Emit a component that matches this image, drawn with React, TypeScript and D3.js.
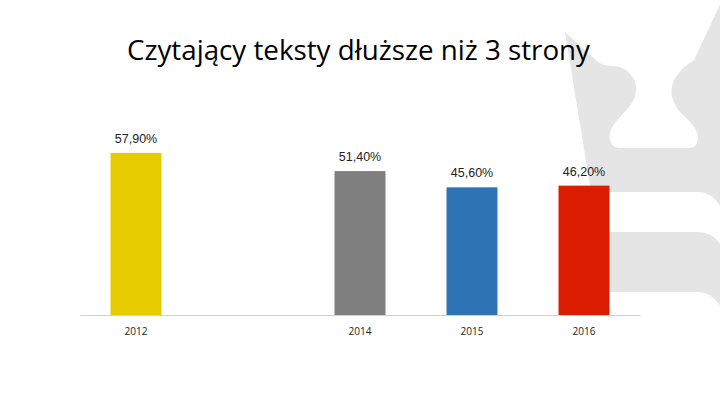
import * as d3 from "d3";
import {useEffect, useRef} from "react";

// data
const years = ["2012", "2013", "2014", "2015", "2016"];
const values = [57.9, null, 51.4, 45.6, 46.2];
const tickLabels = ["2012", "", "2014", "2015", "2016"];
const barColors = ["#E6CB00", "#7F7F7F", "#7F7F7F", "#2E74B5", "#DC1C00"];
const title = "Czytający teksty dłuższe niż 3 strony";

const App = () => {
    const ref = useRef<SVGSVGElement>(null);

    useEffect(() => {
        buildGraph();
    }, []);

    const buildGraph = () => {
        const width = 720, height = 405;
        const plot = {left: 80, right: 640, top: 119, bottom: 315};

        const svg = d3.select(ref.current);
        svg.selectAll("*").remove();

        svg.append("rect").attr("width", width).attr("height", height).attr("fill", "#ffffff");

        // faint watermark on the right side of the slide
        const logo = svg.append("g").attr("fill", "#e5e5e5");
        logo.append("path").attr("d",
            "M565,32 L598,62 Q604,66 612,66 C628,66 638,80 636,92 C634,104 626,110 621,116 " +
            "C614,124 608,130 610,140 Q612,148 620,148 L688,148 Q698,148 698,138 " +
            "C698,128 688,120 680,112 C674,104 670,96 672,86 C674,76 684,66 694,60 L724,-4 " +
            "L724,214 Q715,192 698,192 L591,192 Z");
        logo.append("path").attr("d",
            "M597,232 L698,232 Q715,232 724,250 L724,312 Q714,292 698,292 L606,292 Z");

        // title
        svg.append("text")
            .attr("x", 358.5)
            .attr("y", 60)
            .attr("text-anchor", "middle")
            .attr("textLength", 463)
            .attr("lengthAdjust", "spacingAndGlyphs")
            .style("font-family", "'Open Sans', sans-serif")
            .style("font-size", "28px")
            .style("fill", "#000")
            .text(title);

        const x = d3.scaleBand()
            .domain(years)
            .range([plot.left, plot.right])
            .paddingInner(0.545)
            .paddingOuter(0.2725);

        const y = d3.scaleLinear()
            .domain([0, 70])
            .range([plot.bottom, plot.top]);

        const data = years.map((yr, i) => ({year: yr, value: values[i], color: barColors[i]}))
            .filter(d => d.value !== null);

        svg.selectAll("rect.bar")
            .data(data)
            .join("rect")
            .attr("class", "bar")
            .attr("x", d => x(d.year))
            .attr("width", x.bandwidth())
            .attr("y", d => y(d.value))
            .attr("height", d => y(0) - y(d.value))
            .attr("fill", d => d.color);

        // value labels
        svg.selectAll("text.val")
            .data(data)
            .join("text")
            .attr("class", "val")
            .attr("x", d => x(d.year) + x.bandwidth() / 2)
            .attr("y", d => y(d.value) - 10)
            .attr("text-anchor", "middle")
            .style("font-family", "'Liberation Sans', Arial, sans-serif")
            .style("font-size", "12.5px")
            .style("fill", "#222")
            .text(d => d.value.toFixed(2).replace(".", ",") + "%");

        // x axis
        const axis = svg.append("g")
            .attr("transform", `translate(0, ${plot.bottom})`)
            .call(d3.axisBottom(x).tickSize(0).tickSizeOuter(0).tickPadding(13)
                .tickFormat((d, i) => tickLabels[i]));
        axis.select(".domain").attr("stroke", "#d0d0d0").attr("stroke-width", 1);
        axis.selectAll("text")
            .style("font-family", "'Open Sans', sans-serif")
            .style("font-size", "10px")
            .style("fill", "#222");
    };

    return (
        <div>
            <style>{`body{margin:0}`}</style>
            <svg ref={ref} width={720} height={405} style={{display: "block"}}/>
        </div>
    );
};

export default App;
